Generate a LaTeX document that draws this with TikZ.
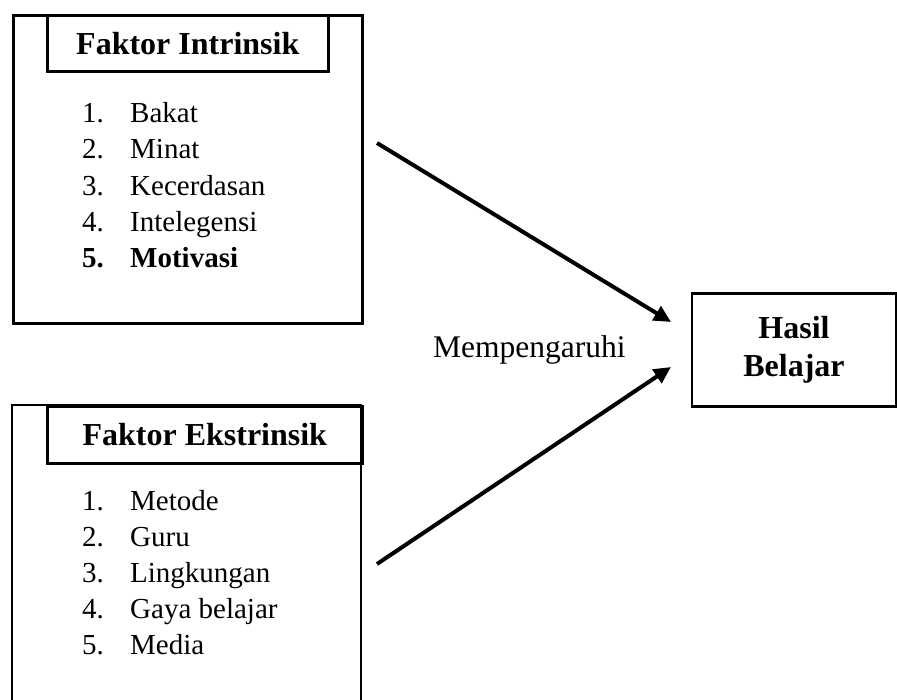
\documentclass[tikz,border=0pt]{standalone}
\usepackage{fontspec}
\setmainfont{Liberation Serif}
\usetikzlibrary{arrows.meta}

\begin{document}
\begin{tikzpicture}[x=1bp, y=-1bp,
    frame/.style={draw, line width=2.6bp, rectangle, inner sep=0pt},
    headtext/.style={font=\fontsize{32bp}{38bp}\selectfont\bfseries},
    itemtext/.style={font=\fontsize{29bp}{35bp}\selectfont, anchor=base west, inner sep=0pt},
    influence/.style={line width=4bp, -{Triangle[length=17bp,width=16bp]}}]
\useasboundingbox (0,0) rectangle (897,700);

% faktor intrinsik
\node[frame, anchor=north west, minimum width=349bp, minimum height=308bp] (intr) at (12,14) {};
\node[frame, headtext, anchor=north west, minimum width=281bp, minimum height=56bp] (intrhead) at (46,14) {Faktor Intrinsik};
\foreach \t [count=\i] in {Bakat, Minat, Kecerdasan, Intelegensi} {
  \node[itemtext] (inum\i) at (82, 87+36*\i) {\i.};
  \node[itemtext] (iitem\i) at (130, 87+36*\i) {\t};
}
\node[itemtext] (inum5) at (82, 267) {\bfseries 5.};
\node[itemtext] (iitem5) at (130, 267) {\bfseries Motivasi};

% faktor ekstrinsik
\draw[line width=2.6bp] (12,700) |- (361,405) -- (361,700);
\node[frame, headtext, anchor=north west, minimum width=315bp, minimum height=57bp] (ekstrhead) at (46,405) {Faktor Ekstrinsik};
\foreach \t [count=\i] in {Metode, Guru, Lingkungan, Gaya belajar, Media} {
  \node[itemtext] (enum\i) at (82, 474+36*\i) {\i.};
  \node[itemtext] (eitem\i) at (130, 474+36*\i) {\t};
}

% hasil belajar
\node[frame, headtext, align=center, minimum width=204bp, minimum height=113bp] (hasil) at (794,350) {Hasil\\Belajar};
\node[itemtext, font=\fontsize{31.5bp}{36bp}\selectfont] (label) at (433,357) {Mempengaruhi};

% panah
\coordinate (from1) at (377,143);
\coordinate (to1) at (671,322);
\coordinate (from2) at (377,564);
\coordinate (to2) at (671,367);
\draw[influence] (from1) -- (to1);
\draw[influence] (from2) -- (to2);
\end{tikzpicture}
\end{document}
